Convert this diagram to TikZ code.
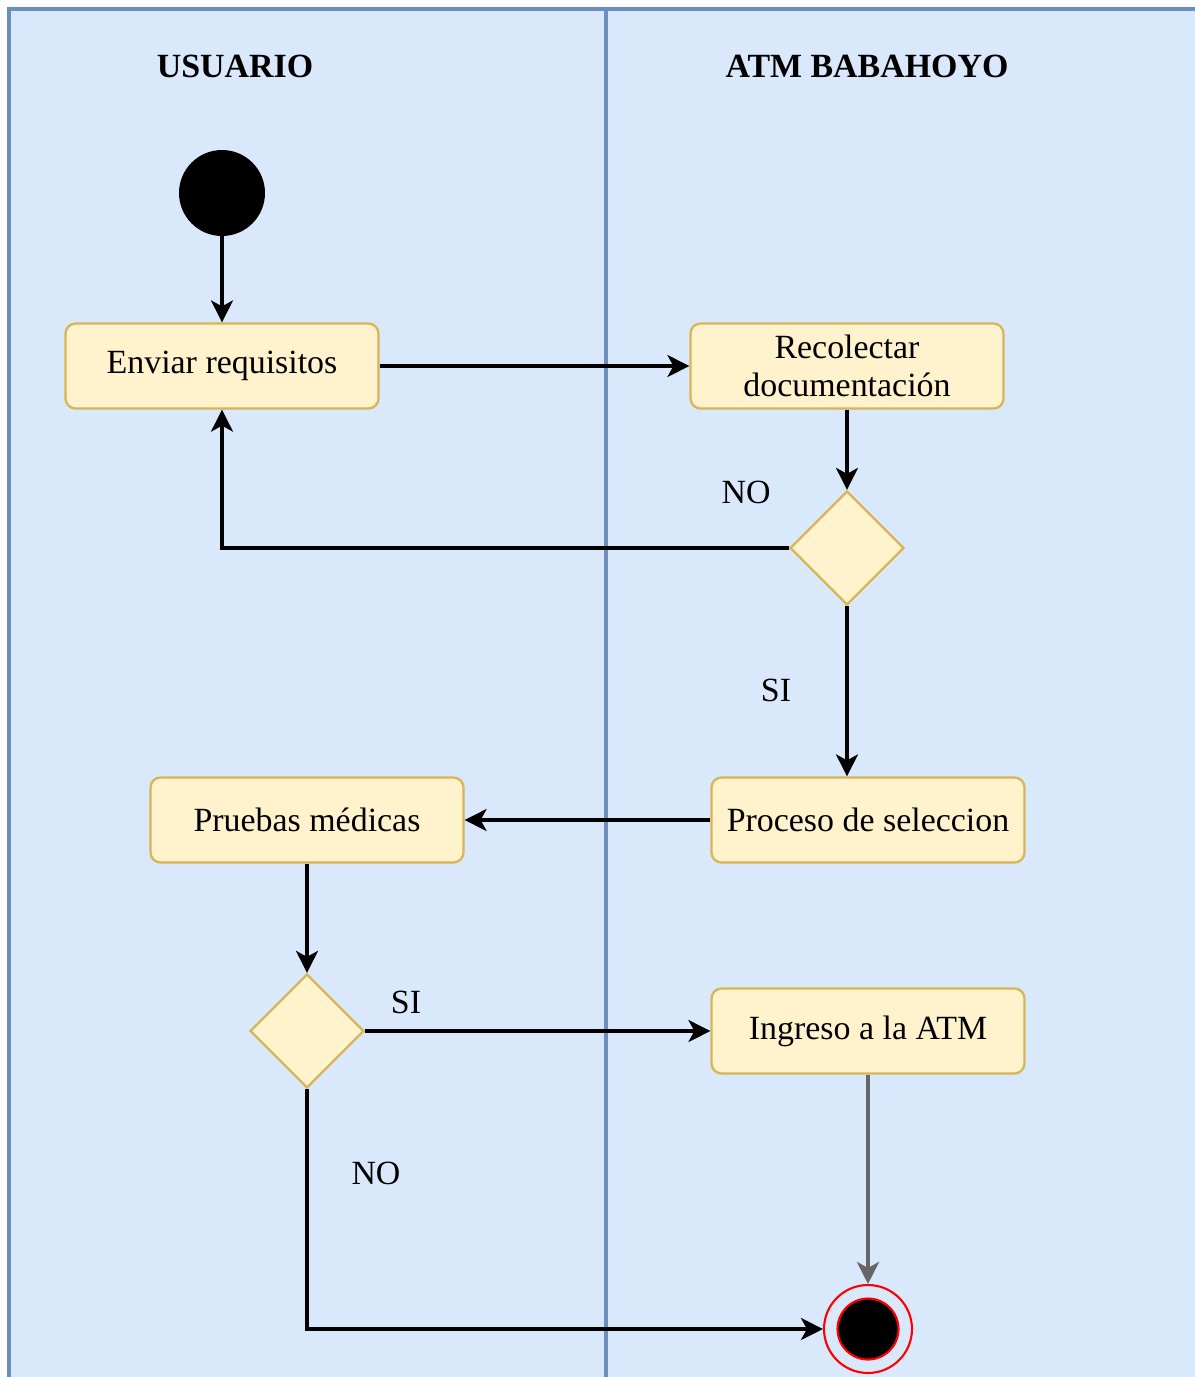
\documentclass[tikz,border=0pt]{standalone}
\usepackage{fontspec}
\setmainfont{Liberation Serif}
\usetikzlibrary{shapes.geometric,arrows.meta}
\definecolor{lanefill}{HTML}{DAE8FC}
\definecolor{laneline}{HTML}{6C8EBF}
\definecolor{boxfill}{HTML}{FFF2CC}
\definecolor{boxline}{HTML}{D6B656}
\definecolor{endred}{HTML}{FF0000}
\begin{document}
\begin{tikzpicture}
  [x=0.02cm,y=-0.02cm,
   every node/.style={font=\fontsize{19.3}{22}\selectfont},
   act/.style={rectangle,rounded corners=0.2cm,draw=boxline,fill=boxfill,line width=1.3pt,
     minimum width=6.26cm,minimum height=1.7cm,align=center,inner sep=2pt},
   choice/.style={diamond,draw=boxline,fill=boxfill,line width=1.3pt,
     minimum width=2.28cm,minimum height=2.28cm,inner sep=0pt},
   lbl/.style={inner sep=0pt},
   title/.style={inner sep=0pt,font=\fontsize{19.3}{22}\selectfont\bfseries},
   flow/.style={line width=1.8pt,-{Stealth[length=0.44cm,width=0.44cm,inset=0.12cm]}}]
  \useasboundingbox (0,0) rectangle (1195,1377);
  \clip (0,0) rectangle (1195,1377);

  % swimlanes
  \fill[white] (0,0) rectangle (1195,1377);
  \draw[fill=lanefill,draw=laneline,line width=1.8pt] (9,9) rectangle (1220,1400);
  \draw[laneline,line width=1.8pt] (606,9) -- (606,1400);
  \node[title] (lane1) at (235,66) {USUARIO};
  \node[title] (lane2) at (867,66) {ATM BABAHOYO};

  % activities
  \node[circle,fill=black,minimum size=1.72cm,inner sep=0pt] (start) at (222,193) {};
  \node[act] (enviar) at (222,366) {Enviar requisitos};
  \node[act] (recol) at (847,366) {Recolectar\\documentación};
  \node[choice] (d1) at (847,548) {};
  \node[act] (proceso) at (868,820) {Proceso de seleccion};
  \node[act] (pruebas) at (307,820) {Pruebas médicas};
  \node[choice] (d2) at (307,1031) {};
  \node[act] (ingreso) at (868,1031) {Ingreso a la ATM};
  \node[circle,draw=endred,line width=1.2pt,minimum size=1.76cm,inner sep=0pt] (fin) at (868,1329) {};
  \node[circle,fill=black,draw=endred,line width=1.2pt,minimum size=1.22cm,inner sep=0pt] (finin) at (868,1329) {};

  % guards
  \node[lbl] (no1) at (746,492) {NO};
  \node[lbl] (si1) at (776,690) {SI};
  \node[lbl] (si2) at (406,1002) {SI};
  \node[lbl] (no2) at (376,1173) {NO};

  \foreach \from/\to in {start/enviar,enviar/recol,recol/d1,proceso/pruebas,pruebas/d2,d2/ingreso}
    \draw[flow] (\from) -- (\to);
  \draw[flow] (d1.west) -| (enviar.south);
  \draw[flow] (d1.south) -- (d1.south |- proceso.north);
  \draw[flow] (d2.south) |- (fin.west);
  \draw[flow,draw=black!60,line width=2.6pt] (ingreso.south) -- (fin.north);

\end{tikzpicture}
\end{document}
